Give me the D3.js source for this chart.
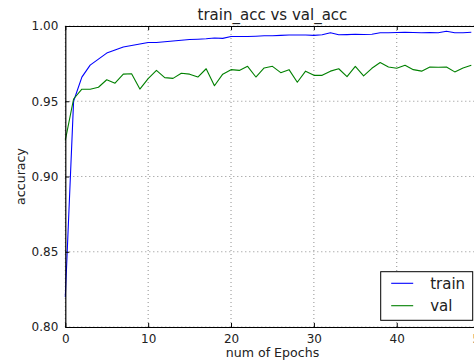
<!DOCTYPE html>
<html>
<head>
<meta charset="utf-8">
<script src="https://cdn.jsdelivr.net/npm/d3@7"></script>
<style>
  html, body { margin: 0; padding: 0; background: #fff; overflow: hidden; }
  svg { display: block; font-family: "DejaVu Sans", sans-serif; }
</style>
</head>
<body>
<script>
// Accuracy per epoch for the training and validation sets
const epochs = d3.range(0, 50);
const trainAcc = [
  0.820, 0.950, 0.966, 0.974, 0.978, 0.982, 0.984, 0.986, 0.987, 0.988,
  0.989, 0.989, 0.9895, 0.990, 0.9905, 0.991, 0.9912, 0.9915, 0.992, 0.9918,
  0.993, 0.993, 0.993, 0.9932, 0.9935, 0.9935, 0.9938, 0.994, 0.994, 0.994,
  0.9938, 0.9942, 0.9955, 0.9942, 0.9943, 0.9945, 0.9944, 0.9945, 0.9955, 0.9955,
  0.9957, 0.9958, 0.9957, 0.9955, 0.9957, 0.9955, 0.9965, 0.9955, 0.9955, 0.9958
];
const valAcc = [
  0.924, 0.9515, 0.958, 0.958, 0.9593, 0.9643, 0.962, 0.968, 0.9683, 0.9581,
  0.965, 0.9705, 0.9657, 0.9652, 0.9686, 0.968, 0.9661, 0.9716, 0.9603, 0.968,
  0.971, 0.9705, 0.9732, 0.9661, 0.9721, 0.9732, 0.969, 0.971, 0.9626, 0.970,
  0.9672, 0.9672, 0.970, 0.9716, 0.9663, 0.9732, 0.9668, 0.9719, 0.9757, 0.9728,
  0.9719, 0.9739, 0.971, 0.970, 0.9728, 0.9726, 0.9728, 0.9695, 0.9721, 0.9739
];
const xTicks = [0, 10, 20, 30, 40, 50];
const yTicks = [0.80, 0.85, 0.90, 0.95, 1.00];
const seriesNames = ["train", "val"];
const seriesColors = ["#0000ff", "#008000"];

const W = 474, H = 364;
const pLeft = 65.3, pRight = 479.6, pTop = 26, pBottom = 327;

const svg = d3.select("body").append("svg").attr("width", W).attr("height", H);

const x = d3.scaleLinear().domain([0, 50]).range([pLeft, pRight]);
const y = d3.scaleLinear().domain([0.80, 1.00]).range([pBottom, pTop]);

// dotted grid
const grid = svg.append("g").attr("stroke", "#000").attr("stroke-width", 0.8)
  .attr("stroke-dasharray", "1,3").attr("opacity", 0.55);
xTicks.forEach(t => grid.append("line")
  .attr("x1", x(t)).attr("x2", x(t)).attr("y1", pTop).attr("y2", pBottom));
yTicks.forEach(t => grid.append("line")
  .attr("x1", pLeft).attr("x2", pRight).attr("y1", y(t)).attr("y2", y(t)));

// data lines
const line = d3.line().x((d, i) => x(epochs[i])).y(d => y(d));
[trainAcc, valAcc].forEach((s, k) => {
  svg.append("path").datum(s).attr("d", line)
    .attr("fill", "none").attr("stroke", seriesColors[k])
    .attr("stroke-width", 1.1).attr("stroke-linejoin", "round");
});

// axes with inward ticks on all four sides
const fmtY = d3.format(".2f");
const axB = svg.append("g").attr("transform", `translate(0,${pBottom})`)
  .call(d3.axisBottom(x).tickValues(xTicks).tickSizeInner(-4).tickSizeOuter(0).tickPadding(7));
const axT = svg.append("g").attr("transform", `translate(0,${pTop})`)
  .call(d3.axisTop(x).tickValues(xTicks).tickSizeInner(-4).tickSizeOuter(0).tickFormat(""));
const axL = svg.append("g").attr("transform", `translate(${pLeft},0)`)
  .call(d3.axisLeft(y).tickValues(yTicks).tickSizeInner(-4).tickSizeOuter(0).tickPadding(7).tickFormat(fmtY));
const axR = svg.append("g").attr("transform", `translate(${pRight},0)`)
  .call(d3.axisRight(y).tickValues(yTicks).tickSizeInner(-4).tickSizeOuter(0).tickFormat(""));
[axB, axT, axL, axR].forEach(a => {
  a.select(".domain").attr("stroke", "#000").attr("stroke-width", 1.2);
  a.selectAll(".tick line").attr("stroke", "#000").attr("stroke-width", 1);
  a.selectAll("text").attr("font-family", "DejaVu Sans, sans-serif")
    .attr("font-size", 12).attr("fill", "#222");
});

// title and axis labels
svg.append("text").attr("x", (pLeft + pRight) / 2).attr("y", 20)
  .attr("text-anchor", "middle").attr("font-size", 15).attr("fill", "#222")
  .text("train_acc vs val_acc");
svg.append("text").attr("x", (pLeft + pRight) / 2).attr("y", 357)
  .attr("text-anchor", "middle").attr("font-size", 12.6).attr("fill", "#222")
  .text("num of Epochs");
svg.append("text").attr("transform", `translate(25,${(pTop + pBottom) / 2}) rotate(-90)`)
  .attr("text-anchor", "middle").attr("font-size", 12.6).attr("fill", "#222")
  .text("accuracy");

// legend
const lg = svg.append("g").attr("transform", "translate(380.7,271.7)");
lg.append("rect").attr("width", 92).attr("height", 48.6)
  .attr("fill", "#fff").attr("stroke", "#000").attr("stroke-width", 1);
seriesNames.forEach((n, i) => {
  const yy = 11.6 + i * 22.4;
  lg.append("line").attr("x1", 10.5).attr("x2", 32.5).attr("y1", yy).attr("y2", yy)
    .attr("stroke", seriesColors[i]).attr("stroke-width", 1.1);
  lg.append("text").attr("x", 49.5).attr("y", yy + 5.3)
    .attr("font-size", 15).attr("fill", "#222").text(n);
});
</script>
</body>
</html>
